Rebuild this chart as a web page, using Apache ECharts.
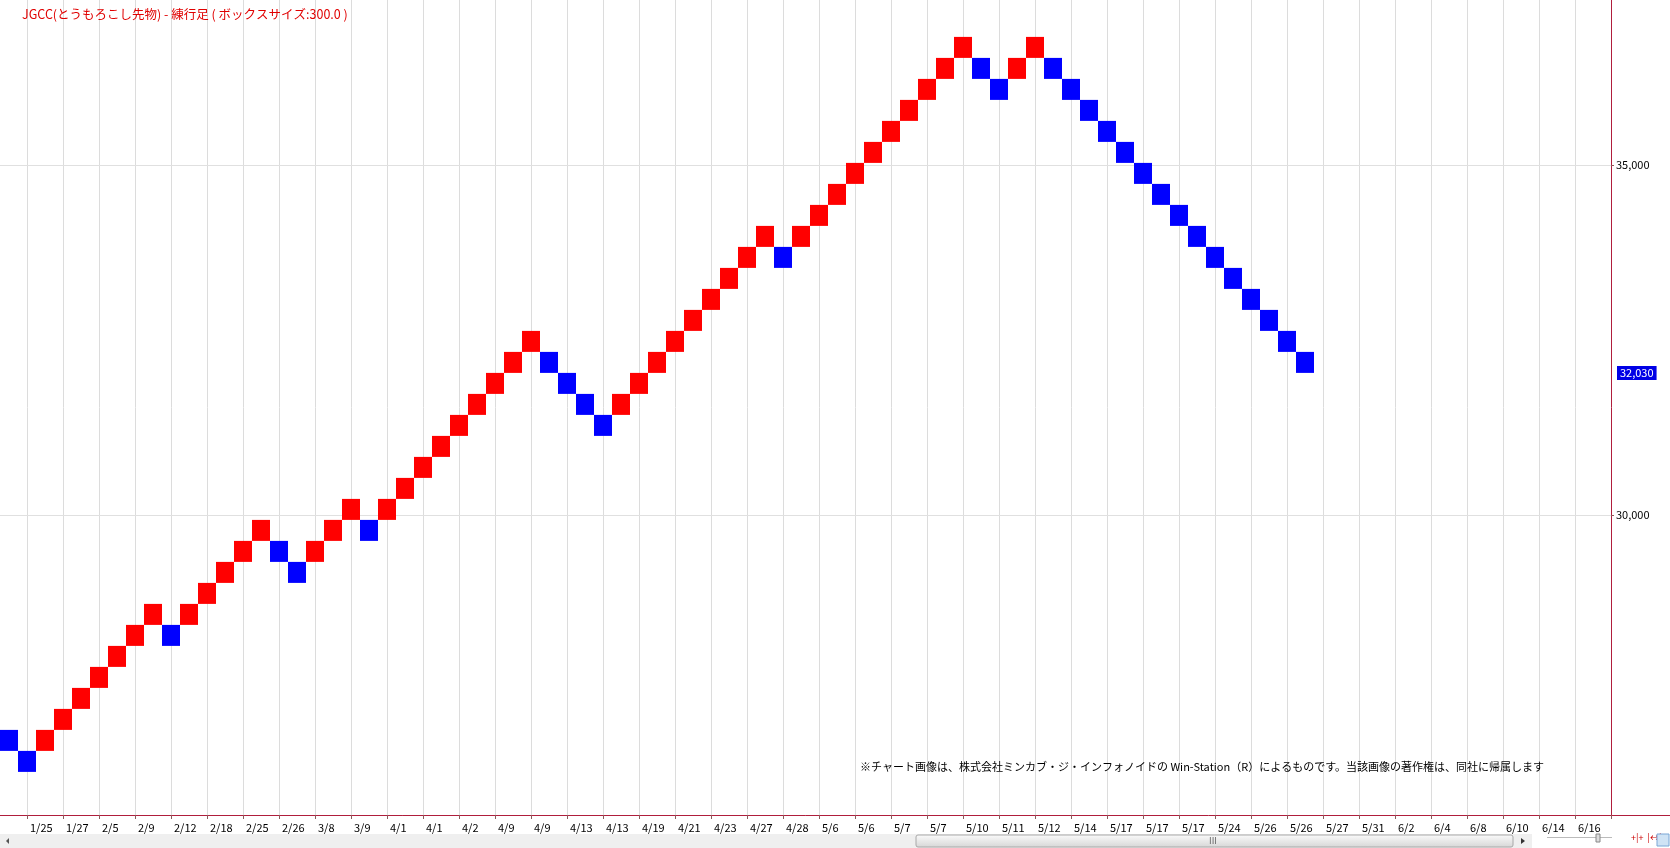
<!DOCTYPE html>
<html>
<head>
<meta charset="utf-8">
<script src="https://cdn.jsdelivr.net/npm/echarts@6/dist/echarts.min.js"></script>
<style>
html,body{margin:0;padding:0;background:#fff;}
#c{width:1670px;height:848px;}
</style>
</head>
<body>
<div id="c"></div>
<script>
// ---- data ----
const chartTitle = 'JGCC(とうもろこし先物) - 練行足 ( ボックスサイズ:300.0 )';
const noteText = '※チャート画像は、株式会社ミンカブ・ジ・インフォノイドの Win-Station（R）によるものです。当該画像の著作権は、同社に帰属します';
const boxSize = 300;
// bottom price of each brick, left to right
const brickLow = [
  26630, 26330, 26630, 26930, 27230, 27530, 27830, 28130, 28430, 28130,
  28430, 28730, 29030, 29330, 29630, 29330, 29030, 29330, 29630, 29930,
  29630, 29930, 30230, 30530, 30830, 31130, 31430, 31730, 32030, 32330,
  32030, 31730, 31430, 31130, 31430, 31730, 32030, 32330, 32630, 32930,
  33230, 33530, 33830, 33530, 33830, 34130, 34430, 34730, 35030, 35330,
  35630, 35930, 36230, 36530, 36230, 35930, 36230, 36530, 36230, 35930,
  35630, 35330, 35030, 34730, 34430, 34130, 33830, 33530, 33230, 32930,
  32630, 32330, 32030
];
// direction of each brick: 'u' = up (red), 'd' = down (blue)
const brickDir = [
  'd','d','u','u','u','u','u','u','u','d',
  'u','u','u','u','u','d','d','u','u','u',
  'd','u','u','u','u','u','u','u','u','u',
  'd','d','d','d','u','u','u','u','u','u',
  'u','u','u','d','u','u','u','u','u','u',
  'u','u','u','u','d','d','u','u','d','d',
  'd','d','d','d','d','d','d','d','d','d',
  'd','d','d'
];
// date labels under every second brick
const xLabels = ['1/25','1/27','2/5','2/9','2/12','2/18','2/25','2/26','3/8','3/9',
  '4/1','4/1','4/2','4/9','4/9','4/13','4/13','4/19','4/21','4/23',
  '4/27','4/28','5/6','5/6','5/7','5/7','5/10','5/11','5/12','5/14',
  '5/17','5/17','5/17','5/24','5/26','5/26','5/27','5/31','6/2','6/4',
  '6/8','6/10','6/14','6/16'];
const yTicks = [30000, 35000];
const lastPrice = 32030;

// ---- chart ----
const RED = '#ff0000', BLUE = '#0000ff';
const AXIS = '#b01e3c';
const FONT = '"Noto Sans CJK JP", "Noto Sans", sans-serif';

const seriesData = brickLow.map((lo, i) => [i - 1, lo, lo + boxSize, brickDir[i] === 'u' ? 1 : 0]);

const chart = echarts.init(document.getElementById('c'), null, {renderer: 'canvas'});
const fmt = v => String(v).replace(/\B(?=(\d{3})+(?!\d))/g, ',');

chart.setOption({
  animation: false,
  backgroundColor: '#ffffff',
  title: [
    {text: chartTitle, left: 17, top: 3,
     textStyle: {color: '#e00000', fontSize: 12.5, fontWeight: 'normal', fontFamily: FONT}},
    {text: noteText, left: 855, top: 756,
     textStyle: {color: '#000', fontSize: 11, fontWeight: 'normal', fontFamily: FONT}}
  ],
  grid: {left: -9, top: 0, width: 1620, height: 815, containLabel: false, outerBoundsMode: 'none'},
  xAxis: {
    type: 'value', min: -2, max: 88, interval: 2,
    axisLine: {show: true, onZero: false, lineStyle: {color: AXIS, width: 1}},
    axisTick: {show: true, length: 4, lineStyle: {color: '#8b5a5a'}},
    axisLabel: {
      show: true, align: 'left', margin: 7, padding: [0, 0, 0, 3],
      color: '#000', fontSize: 11, fontFamily: FONT,
      showMinLabel: true, showMaxLabel: true, hideOverlap: false,
      formatter: v => { const k = Math.round(v / 2); return (v >= 0 && k < xLabels.length) ? xLabels[k] : ''; }
    },
    splitLine: {show: true, lineStyle: {color: '#dcdcdc', width: 1}}
  },
  yAxis: {
    type: 'value', position: 'right',
    min: 25714.2857, max: 37357.1429,
    axisLine: {show: true, onZero: false, lineStyle: {color: AXIS, width: 1}},
    axisTick: {show: true, length: 3, customValues: yTicks, lineStyle: {color: '#8b5a5a'}},
    axisLabel: {show: true, margin: 5, color: '#000', fontSize: 11, fontFamily: FONT,
      customValues: yTicks, formatter: v => fmt(v)},
    splitLine: {show: false}
  },
  series: [
    {
      // horizontal price grid lines and last-price tag (behind the bricks)
      type: 'line', data: [], z: 1, silent: true,
      markLine: {
        z: 1,
        silent: true, symbol: 'none', animation: false,
        data: [
          ...yTicks.map(v => ({yAxis: v, lineStyle: {color: '#e0e0e0', width: 1, type: 'solid'}, label: {show: false}})),
          {yAxis: lastPrice, lineStyle: {color: 'transparent', width: 0},
           label: {show: true, position: 'end', distance: 6, formatter: fmt(lastPrice),
             color: '#fff', backgroundColor: '#0000e6', padding: [2, 3, 1, 3],
             fontSize: 11, fontFamily: FONT}}
        ]
      }
    },
    {
      type: 'custom',
      data: seriesData,
      clip: true,
      z: 3,
      renderItem: (params, api) => {
        const u = api.value(0), lo = api.value(1), hi = api.value(2), up = api.value(3);
        const p1 = api.coord([u - 0.5, hi]);
        const p2 = api.coord([u + 0.5, lo]);
        return {type: 'rect',
          shape: {x: p1[0], y: p1[1], width: p2[0] - p1[0], height: p2[1] - p1[1]},
          style: {fill: up ? RED : BLUE}};
      }
    }
  ],
  graphic: [
    // continuation of bottom axis line past the price axis
    {type: 'line', shape: {x1: 1611, y1: 815.5, x2: 1670, y2: 815.5}, style: {stroke: AXIS, lineWidth: 1}, silent: true},
    // scroll bar chrome
    {type: 'rect', shape: {x: 0, y: 834, width: 1532, height: 14}, style: {fill: '#efefef'}, silent: true},
    {type: 'polygon', shape: {points: [[6, 841], [9, 838], [9, 844]]}, style: {fill: '#555'}, silent: true},
    {type: 'rect', shape: {x: 916, y: 835, width: 597, height: 12, r: 2},
     style: {fill: new echarts.graphic.LinearGradient(0, 0, 0, 1, [{offset: 0, color: '#fbfbfb'}, {offset: 1, color: '#d6d6d6'}]),
       stroke: '#a8a8a8', lineWidth: 1}, silent: true},
    {type: 'text', x: 1209, y: 836, style: {text: 'III', fill: '#666', fontSize: 9, fontFamily: FONT}, silent: true},
    {type: 'polygon', shape: {points: [[1521, 838], [1525, 841], [1521, 844]]}, style: {fill: '#333'}, silent: true},
    {type: 'line', shape: {x1: 1547, y1: 837.5, x2: 1612, y2: 837.5}, style: {stroke: '#bbb', lineWidth: 1}, silent: true},
    {type: 'rect', shape: {x: 1596, y: 834, width: 4, height: 8}, style: {fill: '#ddd', stroke: '#888'}, silent: true},
    {type: 'text', x: 1631, y: 833, style: {text: '+|+  |↔|', fill: '#c00', fontSize: 9, fontFamily: FONT}, silent: true},
    {type: 'rect', shape: {x: 1657, y: 834, width: 12, height: 12}, style: {fill: '#cfe3f5', stroke: '#7aa7d6'}, silent: true}
  ]
});
</script>
</body>
</html>
